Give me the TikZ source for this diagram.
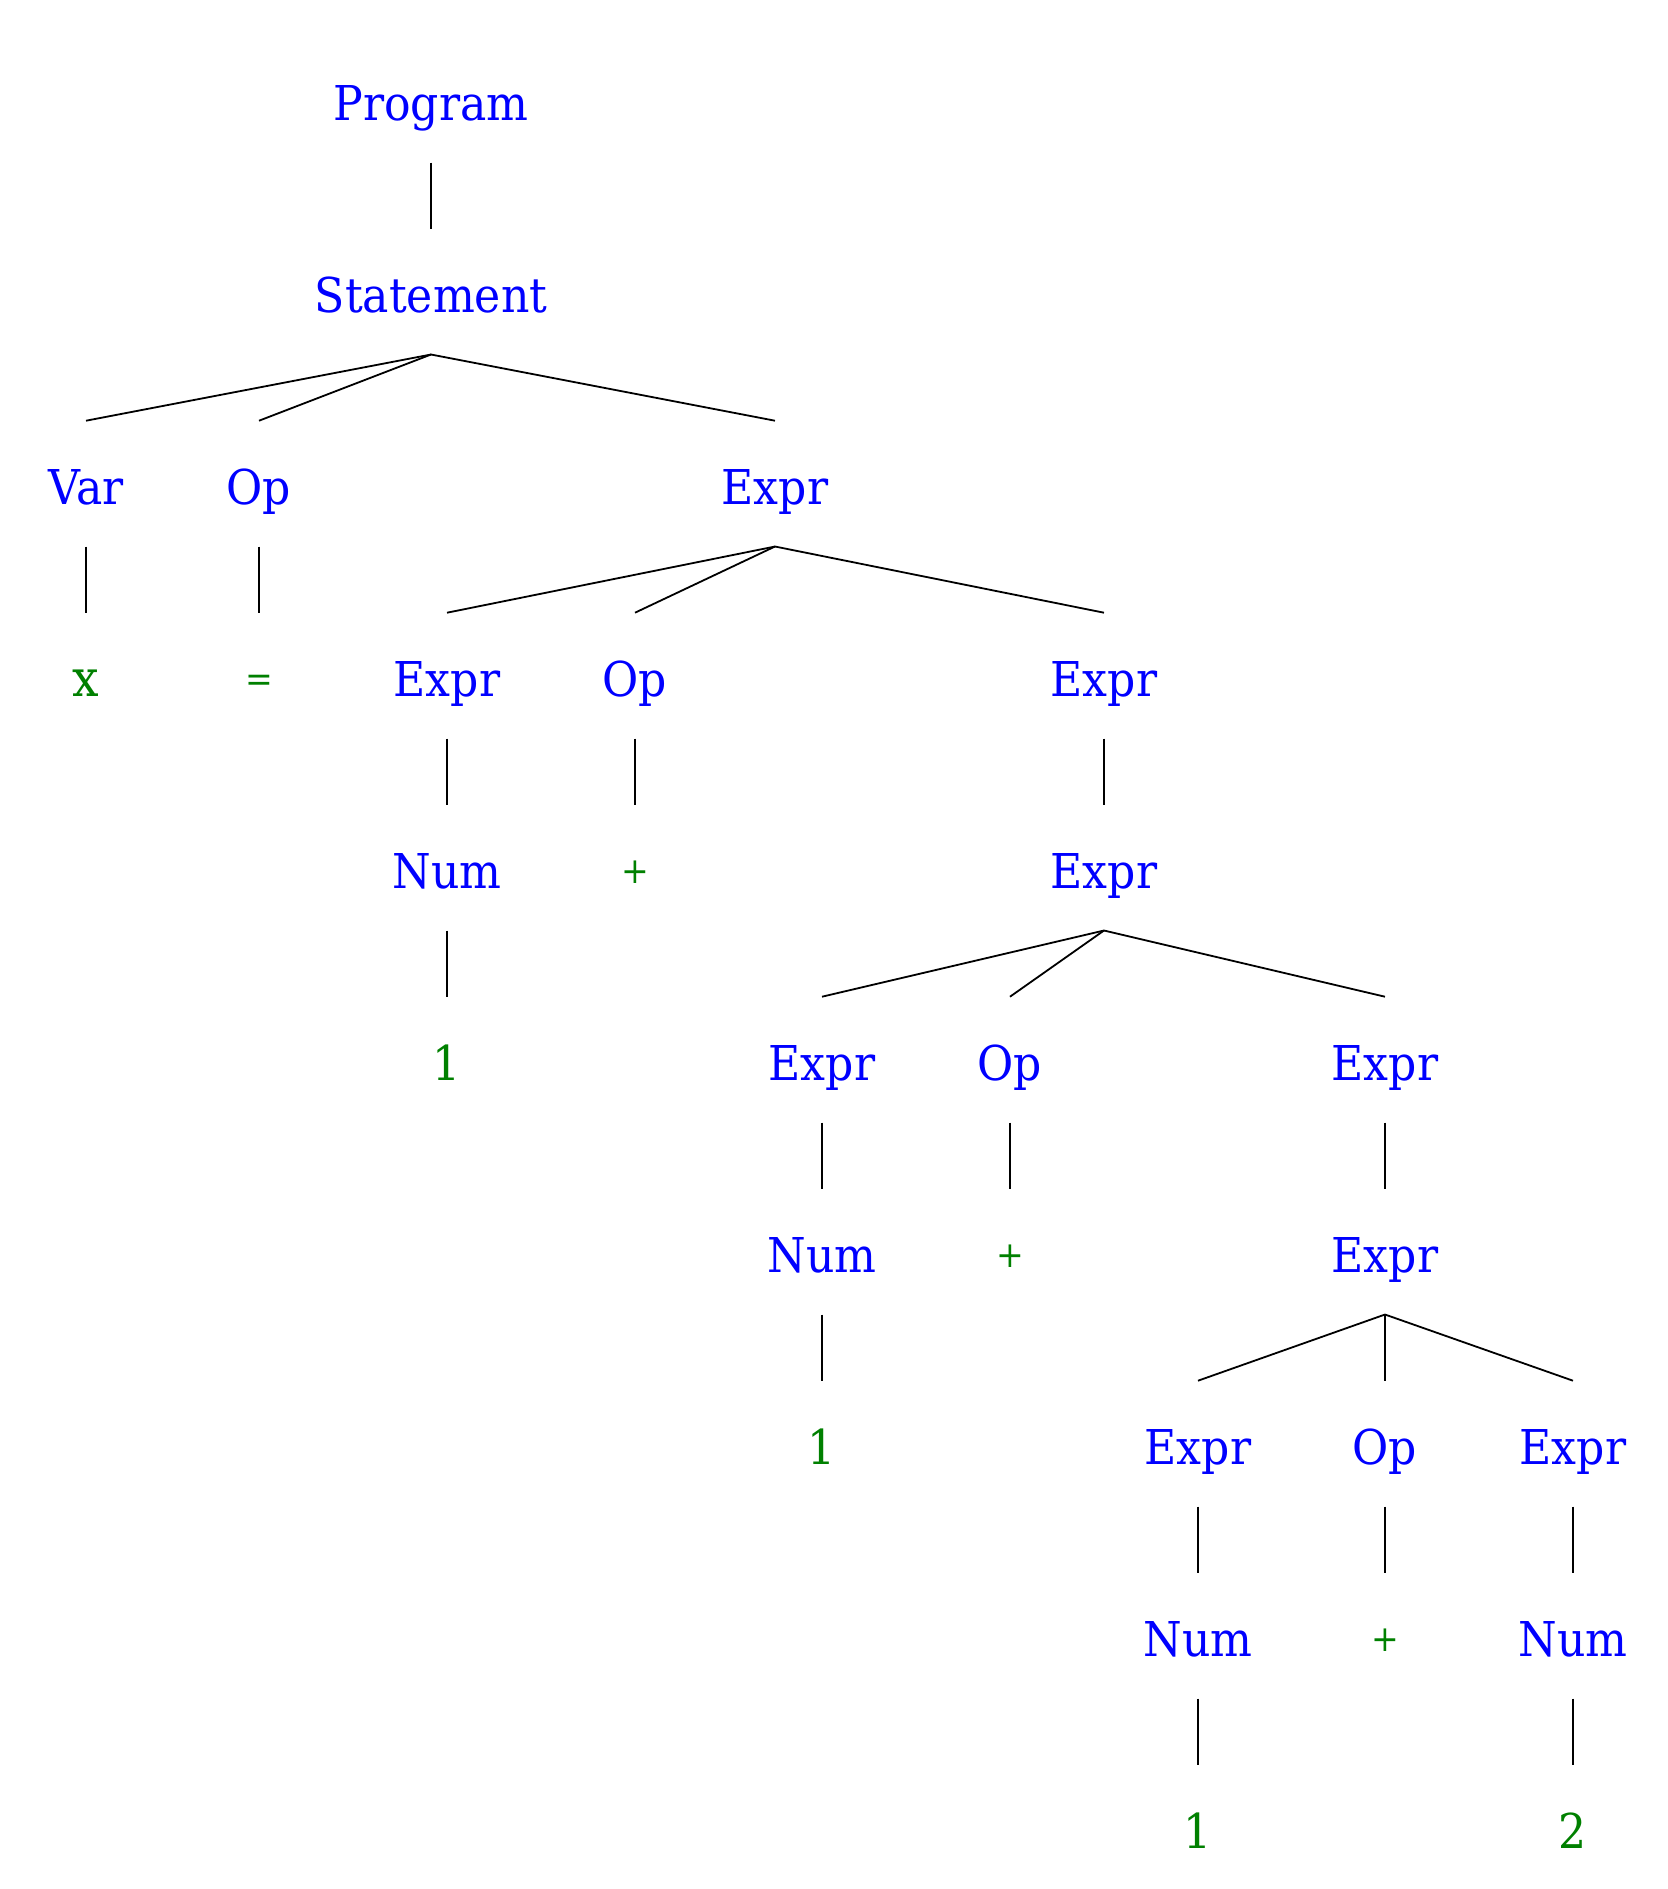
\documentclass[tikz,border=0pt]{standalone}
\usepackage{fontspec}
\setmainfont[FakeStretch=0.92]{DejaVu Serif}
\definecolor{ntblue}{RGB}{0,0,255}
\definecolor{tgreen}{RGB}{0,128,0}
\newcommand{\opsym}[1]{\raisebox{1.2pt}{#1}}
\tikzset{
  tn/.style={anchor=base, inner sep=0pt, text height=20.8pt, text depth=10.25pt,
    font=\fontsize{12}{14}\selectfont},
  nt/.style={tn, text=ntblue},
  term/.style={tn, text=tgreen},
  opterm/.style={tn, text=tgreen, font=\fontsize{9}{10}\selectfont},
  edge/.style={draw=black, line width=0.45pt}
}
\begin{document}
\begin{tikzpicture}[x=0.25pt, y=-0.25pt]
\useasboundingbox (0,0) rectangle (1668,1889);
% level 0-1
\node[nt] (prog) at (431,120.7) {Program};
\node[nt] (stmt) at (431,312.7) {Statement};
% level 2
\node[nt] (var) at (86,504.7) {Var};
\node[nt] (op1) at (259,504.7) {Op};
\node[nt] (e1) at (775,504.7) {Expr};
% level 3
\node[term, font=\fontsize{12.8}{14}\selectfont] (xx) at (86,696.7) {x};
\node[opterm] (eq) at (259,696.7) {\opsym{=}};
\node[nt] (e2) at (447,696.7) {Expr};
\node[nt] (op2) at (635,696.7) {Op};
\node[nt] (e3) at (1104,696.7) {Expr};
% level 4
\node[nt] (n2) at (447,888.7) {Num};
\node[opterm] (p2) at (635,888.7) {\opsym{+}};
\node[nt] (e4) at (1104,888.7) {Expr};
% level 5
\node[term] (one2) at (447,1080.7) {1};
\node[nt] (e5) at (822,1080.7) {Expr};
\node[nt] (op3) at (1010,1080.7) {Op};
\node[nt] (e6) at (1385,1080.7) {Expr};
% level 6
\node[nt] (n5) at (822,1272.7) {Num};
\node[opterm] (p3) at (1010,1272.7) {\opsym{+}};
\node[nt] (e7) at (1385,1272.7) {Expr};
% level 7
\node[term] (one5) at (822,1464.7) {1};
\node[nt] (e8) at (1198,1464.7) {Expr};
\node[nt] (op4) at (1385,1464.7) {Op};
\node[nt] (e9) at (1573,1464.7) {Expr};
% level 8
\node[nt] (n8) at (1198,1656.7) {Num};
\node[opterm] (p4) at (1385,1656.7) {\opsym{+}};
\node[nt] (n9) at (1573,1656.7) {Num};
% level 9
\node[term] (one8) at (1198,1848.7) {1};
\node[term] (two9) at (1573,1848.7) {2};
% edges
\foreach \a/\b in {prog/stmt, stmt/var, stmt/op1, stmt/e1, var/xx, op1/eq,
  e1/e2, e1/op2, e1/e3, e2/n2, op2/p2, e3/e4, n2/one2,
  e4/e5, e4/op3, e4/e6, e5/n5, op3/p3, e6/e7, n5/one5,
  e7/e8, e7/op4, e7/e9, e8/n8, op4/p4, e9/n9, n8/one8, n9/two9}
  \draw[edge] (\a.south) -- (\b.north);
\end{tikzpicture}
\end{document}
